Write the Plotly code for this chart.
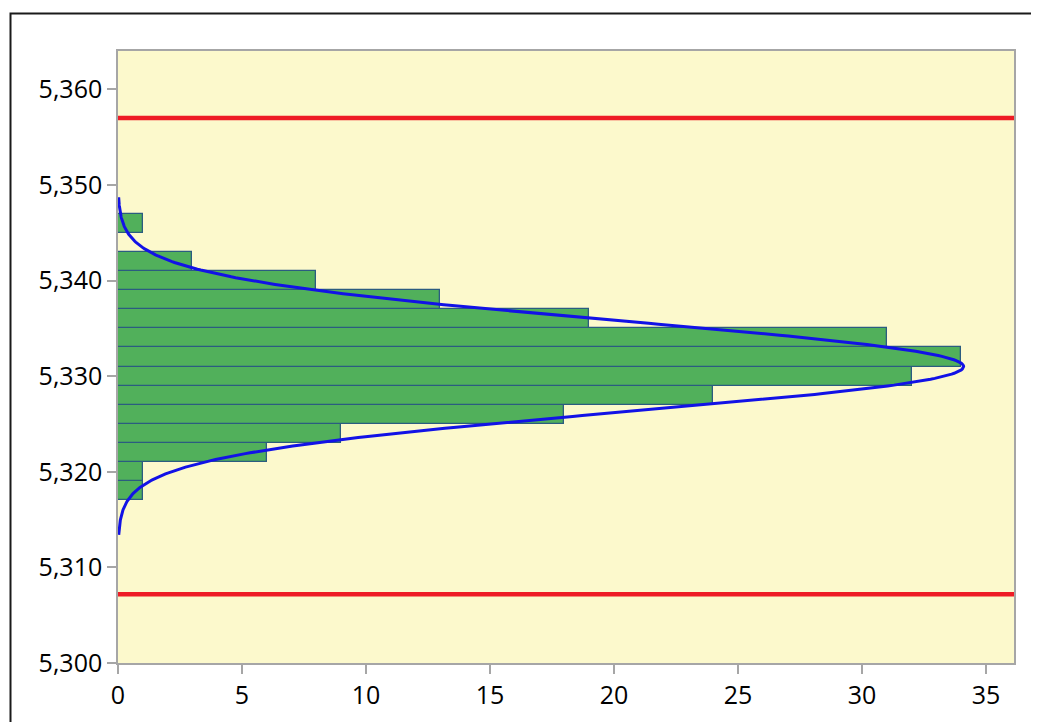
import numpy as np
import plotly.graph_objects as go

# ---- data ----
bin_lower = [5317, 5319, 5321, 5323, 5325, 5327, 5329, 5331, 5333, 5335, 5337, 5339, 5341, 5343, 5345]
counts    = [1,    1,    6,    9,    18,   24,   32,   34,   31,   19,   13,   8,    3,    0,    1]
bin_width = 2
fit_mean = 5331.0
fit_sd = 4.68
curve_lo, curve_hi = 5313.4, 5348.7
spec_limits = [5307.2, 5357.0]
y_ticks = [5300, 5310, 5320, 5330, 5340, 5350, 5360]
x_ticks = [0, 5, 10, 15, 20, 25, 30, 35]

centers = [b + bin_width / 2 for b in bin_lower]
n_total = sum(counts)
yc = np.linspace(curve_lo, curve_hi, 400)
xc = n_total * bin_width * np.exp(-0.5 * ((yc - fit_mean) / fit_sd) ** 2) / (fit_sd * np.sqrt(2 * np.pi))

fig = go.Figure()
fig.add_trace(go.Bar(
    y=centers, x=counts, orientation="h", width=bin_width,
    marker=dict(color="#51B05B", line=dict(color="#2B5C80", width=1.3)),
    showlegend=False, hoverinfo="skip",
))
fig.add_trace(go.Scatter(
    x=xc, y=yc, mode="lines", line=dict(color="#1212E6", width=3),
    showlegend=False, hoverinfo="skip",
))

for v in spec_limits:
    fig.add_shape(type="line", xref="paper", yref="y", x0=0, x1=1, y0=v, y1=v,
                  line=dict(color="#EE1C25", width=4.5))

# page pixel geometry (page body has an 8px offset)
OFF = 8
L, R, T, B = 118, 1014, 51, 663
W, H = 1039, 722
def px(p):
    return (p - L) / (R - L)
def py(p):
    return (B - p) / (B - T)
fig.add_shape(type="rect", xref="paper", yref="paper",
              x0=px(10.5), x1=px(1070), y0=py(13.5), y1=py(770),
              line=dict(color="#1A1A1A", width=2), fillcolor="rgba(0,0,0,0)", layer="below")

axis_common = dict(
    showline=True, mirror=True, linecolor="#A6A6A6", linewidth=1.5,
    ticks="outside", ticklen=9, tickwidth=1.5, tickcolor="#A6A6A6",
    showgrid=False, zeroline=False,
    tickfont=dict(family="Open Sans", size=25, color="#000000"),
)
fig.update_xaxes(range=[0, 36.13], tickvals=x_ticks, **axis_common)
fig.update_yaxes(range=[5300, 5364], tickvals=y_ticks, tickformat=",d", **axis_common)

fig.update_layout(
    width=W, height=H,
    margin=dict(l=L - OFF, r=W + OFF - R, t=T - OFF, b=H + OFF - B),
    plot_bgcolor="#FCF9CC", paper_bgcolor="white",
    bargap=0,
)

fig.write_html("out.html")
